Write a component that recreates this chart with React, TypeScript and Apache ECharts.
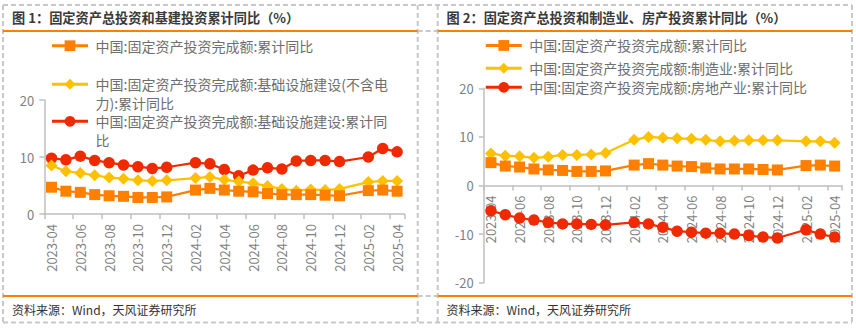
import React, { useEffect, useRef } from 'react';
import * as echarts from 'echarts';

// Months from 2023-04 to 2025-04 (January values are not published: null)
const months = [
  '2023-04', '2023-05', '2023-06', '2023-07', '2023-08', '2023-09', '2023-10', '2023-11', '2023-12',
  '2024-01', '2024-02', '2024-03', '2024-04', '2024-05', '2024-06', '2024-07', '2024-08', '2024-09',
  '2024-10', '2024-11', '2024-12', '2025-01', '2025-02', '2025-03', '2025-04',
];

const faiYoY = [4.7, 4.0, 3.8, 3.4, 3.2, 3.1, 2.9, 2.9, 3.0, null, 4.2, 4.5, 4.2, 4.0, 3.9, 3.6, 3.4, 3.4, 3.4, 3.3, 3.2, null, 4.1, 4.2, 4.0];
const infraExPowerYoY = [8.5, 7.5, 7.2, 6.8, 6.4, 6.2, 5.9, 5.8, 5.9, null, 6.3, 6.5, 6.0, 5.7, 5.4, 4.9, 4.4, 4.1, 4.3, 4.2, 4.4, null, 5.6, 5.8, 5.8];
const infraYoY = [9.8, 9.5, 10.15, 9.4, 9.0, 8.6, 8.3, 8.0, 8.2, null, 9.0, 8.8, 7.8, 6.7, 7.7, 8.1, 7.9, 9.3, 9.4, 9.4, 9.2, null, 10.0, 11.5, 10.9];
const manufacturingYoY = [6.6, 6.1, 6.0, 5.7, 5.9, 6.3, 6.3, 6.4, 6.7, null, 9.4, 10.0, 9.8, 9.7, 9.6, 9.4, 9.1, 9.2, 9.3, 9.3, 9.3, null, 9.1, 9.1, 8.8];
const realEstateYoY = [-5.2, -6.0, -6.7, -7.1, -7.6, -7.9, -7.9, -8.0, -8.1, null, -7.6, -7.9, -8.6, -9.4, -9.6, -9.8, -9.8, -10.0, -10.3, -10.6, -10.8, null, -9.1, -10.0, -10.6];

const leftTicks = [0, 10, 20];
const rightTicks = [-20, -10, 0, 10, 20];

const NAME_FAI = '中国:固定资产投资完成额:累计同比';
const NAME_INFRA_EX = '中国:固定资产投资完成额:基础设施建设(不含电力):累计同比';
const NAME_INFRA = '中国:固定资产投资完成额:基础设施建设:累计同比';
const NAME_MFG = '中国:固定资产投资完成额:制造业:累计同比';
const NAME_RE = '中国:固定资产投资完成额:房地产业:累计同比';

const TITLE_1 = '图 1：固定资产总投资和基建投资累计同比（%）';
const TITLE_2 = '图 2：固定资产总投资和制造业、房产投资累计同比（%）';
const SOURCE = '资料来源：Wind，天风证券研究所';

const ORANGE = '#FF8000';
const YELLOW = '#FFC000';
const RED = '#F02A00';
const FONT = '"Noto Sans CJK SC", "Noto Sans", sans-serif';

// where the long legend names wrap in the reference
const WRAP: Record<string, string[]> = {
  [NAME_INFRA_EX]: ['中国:固定资产投资完成额:基础设施建设(不含电', '力):累计同比'],
  [NAME_INFRA]: ['中国:固定资产投资完成额:基础设施建设:累计同', '比'],
};

const LINE_H = 18.5;

function legendItem(name: string, left: number, centerY: number) {
  const lines = WRAP[name] || [name];
  const n = lines.length;
  return {
    data: [name],
    left,
    top: centerY - LINE_H / 2,
    padding: 0,
    itemWidth: 36,
    itemHeight: 13.5,
    selectedMode: false,
    lineStyle: { width: 3 },
    formatter: () => lines.map((l) => '{t|' + l + '}').join('\n'),
    textStyle: {
      padding: [(n - 1) * LINE_H, 0, 0, 2.5],
      rich: {
        t: {
          fontSize: 14,
          color: '#6e6e6e',
          fontFamily: FONT,
          lineHeight: LINE_H,
        },
      },
    },
  };
}

function dashed(x1: number, y1: number, x2: number, y2: number) {
  return {
    type: 'line',
    shape: { x1, y1, x2, y2 },
    style: { stroke: '#c8c8c8', lineWidth: 2, lineDash: [5, 3] },
    silent: true,
  };
}

function solid(x1: number, y1: number, x2: number, y2: number) {
  return {
    type: 'line',
    shape: { x1, y1, x2, y2 },
    style: { stroke: '#FF7F00', lineWidth: 2 },
    silent: true,
  };
}

function label(text: string, x: number, y: number, bold: boolean, size: number, color: string) {
  return {
    type: 'text',
    x,
    y,
    silent: true,
    style: {
      text,
      fontSize: size,
      fontWeight: bold ? 'bold' : 'normal',
      fontFamily: FONT,
      fill: color,
      verticalAlign: 'middle',
    },
  };
}

const axisGray = '#bfbfbf';
const labelGray = '#7f7f7f';

function xAxisCfg(gridIndex: number, offset: number) {
  return {
    type: 'category',
    gridIndex,
    data: months,
    boundaryGap: true,
    position: 'bottom',
    offset,
    axisLine: { show: true, onZero: false, lineStyle: { color: axisGray, width: 1.5 } },
    axisTick: { show: true, interval: 1, length: 5, lineStyle: { color: axisGray, width: 1.5 } },
    axisLabel: { interval: 1, rotate: 90, margin: 10, fontSize: 13, color: labelGray, fontFamily: FONT },
    splitLine: { show: false },
  };
}

function yAxisCfg(gridIndex: number, ticks: number[]) {
  return {
    type: 'value',
    gridIndex,
    min: ticks[0],
    max: ticks[ticks.length - 1],
    interval: ticks[1] - ticks[0],
    axisLine: { show: true, lineStyle: { color: axisGray, width: 1.5 } },
    axisTick: { show: true, length: 5, lineStyle: { color: axisGray, width: 1.5 } },
    axisLabel: { margin: 10, fontSize: 13, color: labelGray, fontFamily: FONT },
    splitLine: { show: false },
  };
}

function lineSeries(name: string, data: (number | null)[], axis: number, symbol: string, size: number, color: string, z: number) {
  return {
    type: 'line',
    name,
    data,
    xAxisIndex: axis,
    yAxisIndex: axis,
    symbol,
    symbolSize: size,
    showAllSymbol: true,
    connectNulls: true,
    color,
    z,
    lineStyle: { color, width: 2.25 },
    itemStyle: { color },
    emphasis: { disabled: true },
  };
}

const GRID_R_H = 194.4;

export default function App() {
  const ref = useRef<HTMLDivElement>(null);

  useEffect(() => {
    if (!ref.current) return;
    const chart = echarts.init(ref.current, null, { renderer: 'svg' });
    const option: any = {
      animation: false,
      backgroundColor: '#ffffff',
      textStyle: { fontFamily: FONT },
      grid: [
        { left: 44.3, top: 100, width: 360, height: 114, containLabel: false, outerBoundsMode: 'none' },
        { left: 483.8, top: 88.3, width: 358, height: GRID_R_H, containLabel: false, outerBoundsMode: 'none' },
      ],
      // the right chart's category axis sits on the zero line (middle of -20..20)
      xAxis: [xAxisCfg(0, 0), xAxisCfg(1, -GRID_R_H / 2)],
      yAxis: [yAxisCfg(0, leftTicks), yAxisCfg(1, rightTicks)],
      legend: [
        legendItem(NAME_FAI, 50.5, 48),
        legendItem(NAME_INFRA_EX, 50.5, 86.5),
        legendItem(NAME_INFRA, 50.5, 123.6),
        legendItem(NAME_FAI, 484.3, 47.7),
        legendItem(NAME_MFG, 484.3, 70.5),
        legendItem(NAME_RE, 484.3, 89.6),
      ],
      series: [
        lineSeries(NAME_INFRA, infraYoY, 0, 'circle', 11.5, RED, 2),
        lineSeries(NAME_INFRA_EX, infraExPowerYoY, 0, 'diamond', 12, YELLOW, 3),
        lineSeries(NAME_FAI, faiYoY, 0, 'rect', 11, ORANGE, 4),
        lineSeries(NAME_RE, realEstateYoY, 1, 'circle', 11.5, RED, 2),
        lineSeries(NAME_MFG, manufacturingYoY, 1, 'diamond', 12, YELLOW, 3),
        lineSeries(NAME_FAI, faiYoY, 1, 'rect', 11, ORANGE, 4),
      ],
      graphic: [
        dashed(3, 5, 852, 5),
        dashed(3, 322.5, 852, 322.5),
        dashed(3, 5, 3, 322.5),
        dashed(417.7, 5, 417.7, 322.5),
        dashed(437.7, 5, 437.7, 322.5),
        dashed(852, 5, 852, 322.5),
        dashed(417.7, 31, 437.7, 31),
        dashed(417.7, 296, 437.7, 296),
        solid(3, 31, 417.7, 31),
        solid(437.7, 31, 852, 31),
        solid(3, 296, 417.7, 296),
        solid(437.7, 296, 852, 296),
        label(TITLE_1, 12, 17, true, 13.2, '#3a3a3a'),
        label(TITLE_2, 446.5, 17, true, 13.2, '#3a3a3a'),
        label(SOURCE, 12, 309.5, false, 12, '#333333'),
        label(SOURCE, 446.5, 309.5, false, 12, '#333333'),
      ],
    };
    chart.setOption(option);
    return () => chart.dispose();
  }, []);

  return (
    <div
      ref={ref}
      style={{ position: 'absolute', left: 0, top: 0, width: 856, height: 328, background: '#ffffff' }}
    />
  );
}
